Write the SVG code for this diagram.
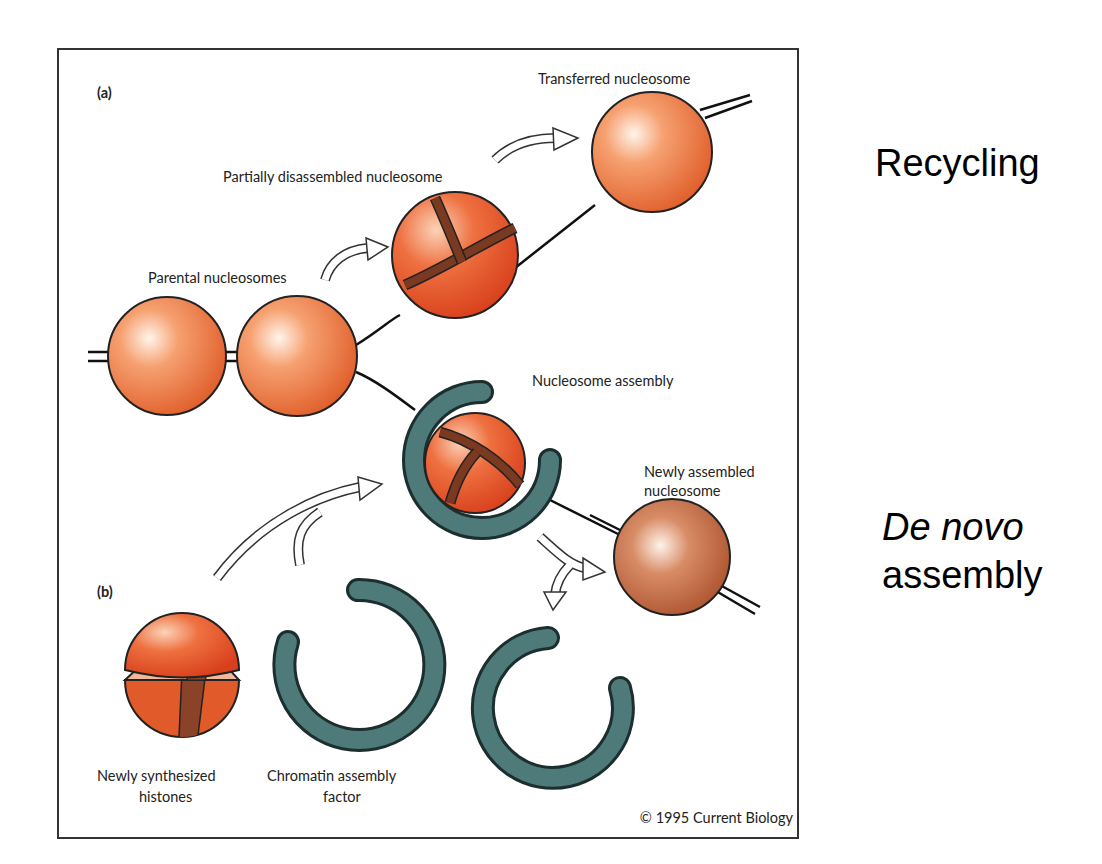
<svg xmlns="http://www.w3.org/2000/svg" width="1102" height="864" viewBox="0 0 1102 864">
<defs>
<radialGradient id="orange" cx="0.35" cy="0.35" r="0.7">
<stop offset="0" stop-color="#fff4ea"/><stop offset="0.35" stop-color="#f6a070"/><stop offset="1" stop-color="#e0602c"/>
</radialGradient>
<radialGradient id="red" cx="0.35" cy="0.3" r="0.75">
<stop offset="0" stop-color="#fbd3b8"/><stop offset="0.4" stop-color="#ee7040"/><stop offset="1" stop-color="#d8401c"/>
</radialGradient>
<radialGradient id="brown" cx="0.4" cy="0.4" r="0.7">
<stop offset="0" stop-color="#fff3ea"/><stop offset="0.35" stop-color="#d88c66"/><stop offset="1" stop-color="#a84e2a"/>
</radialGradient>
<clipPath id="lowhalf"><path d="M125,680 A57,57 0 1,0 239,680 Z"/></clipPath>
<style>
.lbl{font-family:Lato,"Open Sans",sans-serif;font-size:14.5px;fill:#222}
.big{font-family:"Liberation Sans",Arial,sans-serif;font-size:38px;fill:#000}
.ball{stroke:#222;stroke-width:2}
.dna{fill:none;stroke:#111;stroke-width:2.5}
.ringo{fill:none;stroke:#1c2e2e;stroke-width:24;stroke-linecap:round}
.ringi{fill:none;stroke:#4f7a7a;stroke-width:18;stroke-linecap:round}
.ao{fill:none;stroke:#333;stroke-width:10}
.ai{fill:none;stroke:#fff;stroke-width:7}
.ah{fill:#fff;stroke:#333;stroke-width:1.5}
.band{fill:none;stroke:#222;stroke-width:11}
.bandi{fill:none;stroke:#7a3a22;stroke-width:8}
</style>
</defs>
<rect x="58" y="49" width="740" height="789" fill="#fff" stroke="#333" stroke-width="2"/>
<g id="connectors">
<path class="dna" d="M88,352 H108 M88,361 H108 M226,352 H240 M226,361 H240"/>
<path class="dna" d="M356,345 C380,330 390,320 400,315 M515,268 L595,205 M700,110 L750,95 M705,118 L752,101"/>
<path class="dna" d="M356,372 C375,380 395,395 415,410 M540,495 L620,535 M720,585 L760,607 M716,591 L755,614 M590,515 L620,530"/>
<path class="ao" d="M217,578 C260,520 320,495 360,487 M300,565 C295,540 300,525 320,512"/><path class="ai" d="M217,578 C260,520 320,495 360,487 M300,565 C295,540 300,525 320,512"/>
<polygon class="ah" points="358,477 382,484 360,500"/>
<path class="ao" d="M325,280 C330,262 345,250 368,248"/><path class="ai" d="M325,280 C330,262 345,250 368,248"/>
<polygon class="ah" points="366,238 388,247 368,260"/>
<path class="ao" d="M495,160 C510,145 530,138 556,138"/><path class="ai" d="M495,160 C510,145 530,138 556,138"/>
<polygon class="ah" points="553,128 578,138 554,150"/>
<path class="ao" d="M540,537 C560,555 570,565 585,568 M570,565 C560,575 556,585 555,595"/><path class="ai" d="M540,537 C560,555 570,565 585,568 M570,565 C560,575 556,585 555,595"/>
<polygon class="ah" points="583,558 605,572 583,580"/><polygon class="ah" points="544,592 566,592 553,610"/>
</g>
<g id="parental1"><circle class="ball" cx="167" cy="356" r="59" fill="url(#orange)"/></g>
<g id="parental2"><circle class="ball" cx="297" cy="356" r="60" fill="url(#orange)"/></g>
<g id="partial"><circle class="ball" cx="455" cy="255" r="63" fill="url(#red)"/>
<path class="band" d="M405,285 C440,270 480,245 515,228"/><path class="bandi" d="M405,285 C440,270 480,245 515,228"/>
<path class="band" d="M435,198 C445,220 455,245 462,262"/><path class="bandi" d="M435,198 C445,220 455,245 462,262"/>
</g>
<g id="transferred"><circle class="ball" cx="652" cy="152" r="60" fill="url(#orange)"/></g>
<g id="assembly">
<path class="ringo" d="M482,392 A68,68 0 1,0 550,460"/><path class="ringi" d="M482,392 A68,68 0 1,0 550,460"/>
<circle class="ball" cx="475" cy="463" r="50" fill="url(#red)"/>
<path class="band" d="M440,432 C470,440 500,460 520,485"/><path class="bandi" d="M440,432 C470,440 500,460 520,485"/>
<path class="band" d="M477,452 C462,468 455,485 450,503"/><path class="bandi" d="M477,452 C462,468 455,485 450,503"/>
</g>
<g id="newly"><circle class="ball" cx="672" cy="557" r="58" fill="url(#brown)"/></g>
<g id="histones">
<path class="ball" d="M125,680 A57,57 0 1,0 239,680 Z" fill="#e05a2a"/>
<g clip-path="url(#lowhalf)"><path d="M182,670 L205,678 L195,760 L178,760 Z" fill="#8a4228" stroke="#222" stroke-width="1.5"/></g>
<path class="ball" d="M125,680 L138,668 L228,668 L239,680 Z" fill="#f2b898"/>
<path d="M180,668 L210,668 L205,680 L188,680 Z" fill="#8a4228" stroke="#222" stroke-width="1.2"/>
<path class="ball" d="M125,670 A57,57 0 0,1 239,670 C200,680 165,680 125,670 Z" fill="url(#red)"/>
</g>
<g id="factor1"><path class="ringo" d="M288,642 A75,75 0 1,0 358,590"/><path class="ringi" d="M288,642 A75,75 0 1,0 358,590"/></g>
<g id="factor2"><path class="ringo" d="M548,638 A70,70 0 1,0 620,688"/><path class="ringi" d="M548,638 A70,70 0 1,0 620,688"/></g>
<g id="labels">
<text class="lbl" x="97" y="98" font-weight="bold">(a)</text>
<text class="lbl" x="97" y="597" font-weight="bold">(b)</text>
<text class="lbl" x="538" y="84">Transferred nucleosome</text>
<text class="lbl" x="223" y="182">Partially disassembled nucleosome</text>
<text class="lbl" x="148" y="283">Parental nucleosomes</text>
<text class="lbl" x="532" y="386">Nucleosome assembly</text>
<text class="lbl" x="644" y="477">Newly assembled</text>
<text class="lbl" x="644" y="496">nucleosome</text>
<text class="lbl" x="97" y="781">Newly synthesized</text>
<text class="lbl" x="139" y="802">histones</text>
<text class="lbl" x="267" y="781">Chromatin assembly</text>
<text class="lbl" x="323" y="802">factor</text>
<text class="lbl" x="793" y="823" font-size="10.5" text-anchor="end">© 1995 Current Biology</text>
<text class="big" x="875" y="176">Recycling</text>
<text class="big" x="882" y="540" font-style="italic">De novo</text>
<text class="big" x="882" y="588">assembly</text>
</g>
</svg>
